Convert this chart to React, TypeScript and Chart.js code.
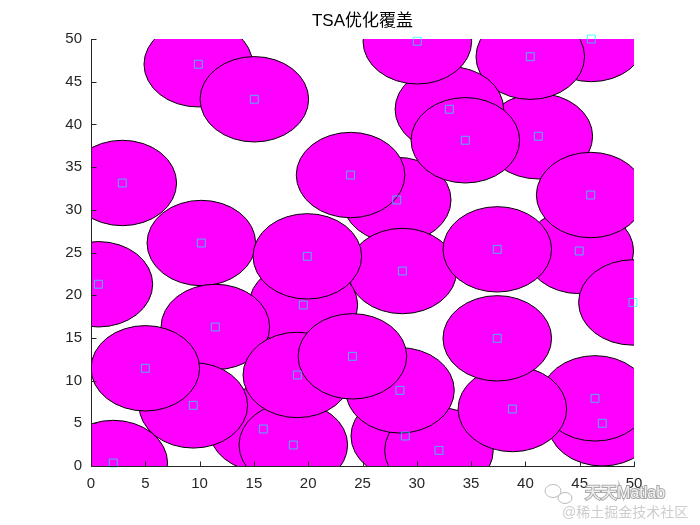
import React, { useEffect, useRef } from "react";
import { Chart, registerables } from "chart.js";

Chart.register(...registerables);

const TITLE = "TSA优化覆盖";
const RADIUS = 5;
// circle centres, listed in drawing order (later ones lie on top)
const centerX = [9.88, 15.04, 2.88, 46.07, 41.19, 40.45, 33.0, 30.05, 28.15, 34.47, 23.9, 44.96, 46.01, 49.9, 10.16, 28.67, 19.55, 19.92, 37.41, 0.68, 11.45, 15.87, 18.63, 9.42, 5.0, 2.05, 19.0, 47.08, 46.41, 28.94, 32.04, 28.45, 38.8, 37.41, 24.07];
const centerY = [47.04, 42.94, 33.14, 50.0, 38.61, 47.93, 41.77, 49.73, 31.15, 38.14, 34.07, 25.18, 31.73, 19.15, 26.11, 22.83, 18.85, 24.55, 25.37, 21.28, 16.28, 4.33, 2.46, 7.1, 11.44, 0.35, 10.66, 5.0, 7.92, 3.51, 1.83, 8.86, 6.67, 14.95, 12.84];
const xTicks = [0, 5, 10, 15, 20, 25, 30, 35, 40, 45, 50];
const yTicks = [0, 5, 10, 15, 20, 25, 30, 35, 40, 45, 50];
const WATERMARK_1 = "天天Matlab";
const WATERMARK_2 = "@稀土掘金技术社区";

const AXIS_COLOR = "#262626";
const FONT = "'Liberation Sans', Arial, 'Noto Sans CJK SC', sans-serif";

const circlesPlugin = {
  id: "circles",
  beforeDatasetsDraw(chart: any) {
    const { ctx, chartArea: a, scales } = chart;
    const x = scales.x;
    const y = scales.y;
    ctx.save();
    ctx.beginPath();
    ctx.rect(a.left, a.top, a.right - a.left, a.bottom - a.top);
    ctx.clip();
    for (let i = 0; i < centerX.length; i++) {
      const px = x.getPixelForValue(centerX[i]);
      const py = y.getPixelForValue(centerY[i]);
      const rx = Math.abs(x.getPixelForValue(centerX[i] + RADIUS) - px);
      const ry = Math.abs(y.getPixelForValue(centerY[i] + RADIUS) - py);
      ctx.beginPath();
      ctx.ellipse(px, py, rx, ry, 0, 0, Math.PI * 2);
      ctx.fillStyle = "#ff00ff";
      ctx.fill();
      ctx.lineWidth = 1;
      ctx.strokeStyle = "#000000";
      ctx.stroke();
    }
    ctx.restore();
  },
};

const axesPlugin = {
  id: "matlabAxes",
  afterDatasetsDraw(chart: any) {
    const { ctx, chartArea: a, scales } = chart;
    const x = scales.x;
    const y = scales.y;
    ctx.save();
    ctx.strokeStyle = AXIS_COLOR;
    ctx.lineWidth = 1;
    const L = Math.round(a.left) + 0.5;
    const B = Math.round(a.bottom) + 0.5;
    ctx.beginPath();
    ctx.moveTo(L, Math.round(a.top));
    ctx.lineTo(L, B);
    ctx.lineTo(Math.round(a.right) + 1, B);
    ctx.stroke();
    ctx.beginPath();
    for (const v of xTicks) {
      const px = Math.round(x.getPixelForValue(v)) + 0.5;
      ctx.moveTo(px, B);
      ctx.lineTo(px, B - 5);
    }
    for (const v of yTicks) {
      const py = Math.round(y.getPixelForValue(v)) + 0.5;
      ctx.moveTo(L, py);
      ctx.lineTo(L + 5, py);
    }
    ctx.stroke();
    ctx.restore();
  },
  afterDraw(chart: any) {
    const { ctx, chartArea: a } = chart;
    ctx.save();
    // title
    ctx.fillStyle = "#000000";
    ctx.font = `17px ${FONT}`;
    ctx.textAlign = "center";
    ctx.textBaseline = "middle";
    ctx.fillText(TITLE, (a.left + a.right) / 2, 21);
    // watermark
    ctx.globalAlpha = 0.85;
    ctx.strokeStyle = "#b0b0b0";
    ctx.lineWidth = 1;
    ctx.beginPath();
    ctx.ellipse(553, 491, 8, 6.5, 0, 0, Math.PI * 2);
    ctx.stroke();
    ctx.beginPath();
    ctx.ellipse(565, 498, 7, 5.5, 0, 0, Math.PI * 2);
    ctx.stroke();
    ctx.textAlign = "left";
    ctx.font = `16px ${FONT}`;
    ctx.lineWidth = 2;
    ctx.strokeStyle = "#9a9a9a";
    ctx.strokeText(WATERMARK_1, 585, 494);
    ctx.fillStyle = "#ffffff";
    ctx.fillText(WATERMARK_1, 585, 494);
    ctx.font = `14px ${FONT}`;
    ctx.fillStyle = "#c4c4c4";
    ctx.fillText(WATERMARK_2, 562, 513);
    ctx.restore();
  },
};

export default function App() {
  const ref = useRef<HTMLCanvasElement | null>(null);
  useEffect(() => {
    document.body.style.margin = "0";
    const canvas = ref.current;
    if (!canvas) return;
    const points = centerX.map((cx, i) => ({ x: cx, y: centerY[i] }));
    const tickFont = { family: FONT, size: 15 };
    const chart = new Chart(canvas, {
      type: "scatter",
      data: {
        datasets: [
          {
            label: "centres",
            data: points,
            pointStyle: "rect",
            pointRadius: 5.6,
            pointBorderWidth: 1,
            pointBorderColor: "rgba(0,255,255,0.7)",
            pointBackgroundColor: "rgba(0,0,0,0)",
            clip: false,
          } as any,
        ],
      },
      options: {
        animation: false,
        responsive: false,
        devicePixelRatio: 1,
        layout: { padding: { top: 39, right: 66, left: 0, bottom: 0 } },
        plugins: {
          legend: { display: false },
          title: { display: false },
          tooltip: { enabled: false },
        },
        events: [],
        scales: {
          x: {
            type: "linear",
            min: 0,
            max: 50,
            afterBuildTicks: (s: any) => {
              s.ticks = xTicks.map((v) => ({ value: v }));
            },
            afterFit: (s: any) => {
              s.height = 59;
            },
            grid: { display: false, drawTicks: false },
            border: { display: false },
            ticks: { color: AXIS_COLOR, font: tickFont, padding: 9, maxRotation: 0, autoSkip: false },
          },
          y: {
            type: "linear",
            min: 0,
            max: 50,
            afterBuildTicks: (s: any) => {
              s.ticks = yTicks.map((v) => ({ value: v }));
            },
            afterFit: (s: any) => {
              s.width = 91;
            },
            grid: { display: false, drawTicks: false },
            border: { display: false },
            ticks: { color: AXIS_COLOR, font: tickFont, padding: 9, autoSkip: false },
          },
        },
      } as any,
      plugins: [circlesPlugin, axesPlugin],
    });
    return () => chart.destroy();
  }, []);
  return (
    <div style={{ width: 700, height: 525, background: "#ffffff" }}>
      <canvas ref={ref} width={700} height={525} />
    </div>
  );
}
